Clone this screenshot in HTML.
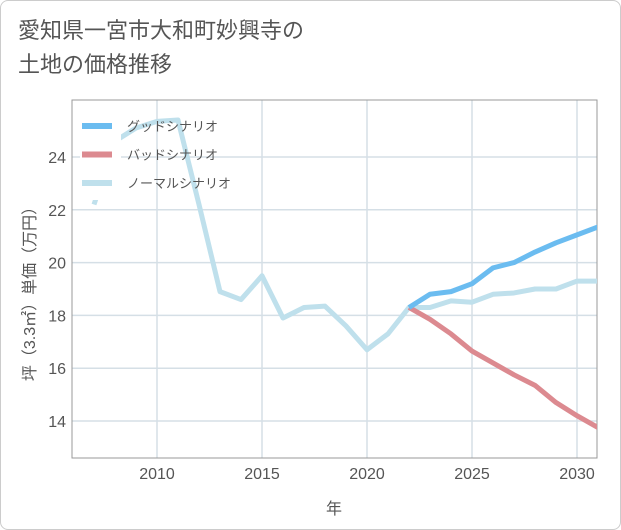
<!DOCTYPE html>
<html><head><meta charset="utf-8"><style>
body{margin:0;background:#fff;}
#card{position:absolute;left:0;top:0;width:619px;height:528px;border:1px solid #ccc;border-radius:8px;background:#fff;}
#title{position:absolute;left:18px;top:14px;font:22px "Liberation Sans","Noto Sans CJK JP",sans-serif;color:#555;line-height:34px;}
text{font-family:"Liberation Sans","Noto Sans CJK JP",sans-serif;}
</style></head><body>
<div id="card"></div>
<div id="title">愛知県一宮市大和町妙興寺の<br>土地の価格推移</div>
<svg id="chart" width="621" height="530" style="position:absolute;left:0;top:0"></svg>
<script>
const years=[2007,2008,2009,2010,2011,2012,2013,2014,2015,2016,2017,2018,2019,2020,2021,2022,2023,2024,2025,2026,2027,2028,2029,2030,2031];
const normal=[22.2,24.6,25.1,25.35,25.4,22.2,18.9,18.6,19.5,17.9,18.3,18.35,17.6,16.7,17.3,18.3,18.3,18.55,18.5,18.8,18.85,19.0,19.0,19.3,19.3];
const goodYears=[2022,2023,2024,2025,2026,2027,2028,2029,2030,2031];
const good=[18.3,18.8,18.9,19.2,19.8,20.0,20.4,20.75,21.05,21.35];
const bad=[18.3,17.85,17.3,16.65,16.2,15.75,15.35,14.7,14.2,13.75];
const xTicks=[2010,2015,2020,2025,2030];
const yTicks=[14,16,18,20,22,24];
const L=72,R=597,T=100,B=458;
const x=v=>157+(v-2010)*21;
const y=v=>421-(v-14)*26.4;
const svg=document.getElementById('chart');
const NS='http://www.w3.org/2000/svg';
function mk(t,a,p){const e=document.createElementNS(NS,t);for(const k in a)e.setAttribute(k,a[k]);(p||svg).appendChild(e);return e;}
const grid=mk('g',{});


xTicks.forEach(t=>{
 const l=mk('line',{x1:x(t),x2:x(t),y1:T,y2:B,stroke:'#d5dfe6','stroke-width':1.5},grid);
 
 
 const tx=mk('text',{x:x(t),y:479,'text-anchor':'middle','font-size':16,fill:'#555'});
 tx.textContent=t;
 
 
});
yTicks.forEach(t=>{
 const l=mk('line',{x1:L,x2:R,y1:y(t),y2:y(t),stroke:'#d5dfe6','stroke-width':1.5},grid);
 
 
 const tx=mk('text',{x:66,y:y(t)+6,'text-anchor':'end','font-size':16,fill:'#555'});
 tx.textContent=t;
 
 
});
const frame=mk('rect',{x:L,y:T,width:R-L,height:B-T,fill:'none',stroke:'#999','stroke-width':1});


const clip=mk('clipPath',{id:'pc'});mk('rect',{x:L,y:T,width:R-L,height:B-T},clip);
function line(xs,ys,c,name){
 const p=mk('polyline',{points:xs.map((v,i)=>x(v)+','+y(ys[i])).join(' '),fill:'none',stroke:c,'stroke-width':5,'stroke-linejoin':'round','clip-path':'url(#pc)'});
 
 
}
line(years,normal,'#bfe0ec','normal-scenario-line');
line(goodYears,bad,'#dc8a90','bad-scenario-line');
line(goodYears,good,'#6bbcf0','good-scenario-line');
const lg=mk('g',{});


mk('rect',{x:80,y:110,width:41,height:90,fill:'#fff'},lg);
mk('rect',{x:80,y:128,width:8,height:72,fill:'#fff'},lg);
[['グッドシナリオ','#6bbcf0'],['バッドシナリオ','#dc8a90'],['ノーマルシナリオ','#bfe0ec']].forEach((d,i)=>{
 const yy=126+i*28.5;
 const s=mk('line',{x1:82,x2:112,y1:yy,y2:yy,stroke:d[1],'stroke-width':6},lg);
 
 
 const t=mk('text',{x:127,y:yy+5,'font-size':13,fill:'#555'},lg);
 t.textContent=d[0];
 
 
});
const xt=mk('text',{x:334,y:514,'text-anchor':'middle','font-size':16,fill:'#555'});
xt.textContent='年';


const yt=mk('text',{x:0,y:0,'text-anchor':'middle','font-size':16,fill:'#555',transform:'translate(35,290) rotate(-90)'});
yt.textContent='坪（3.3㎡）単価（万円）';


</script>
</body></html>
